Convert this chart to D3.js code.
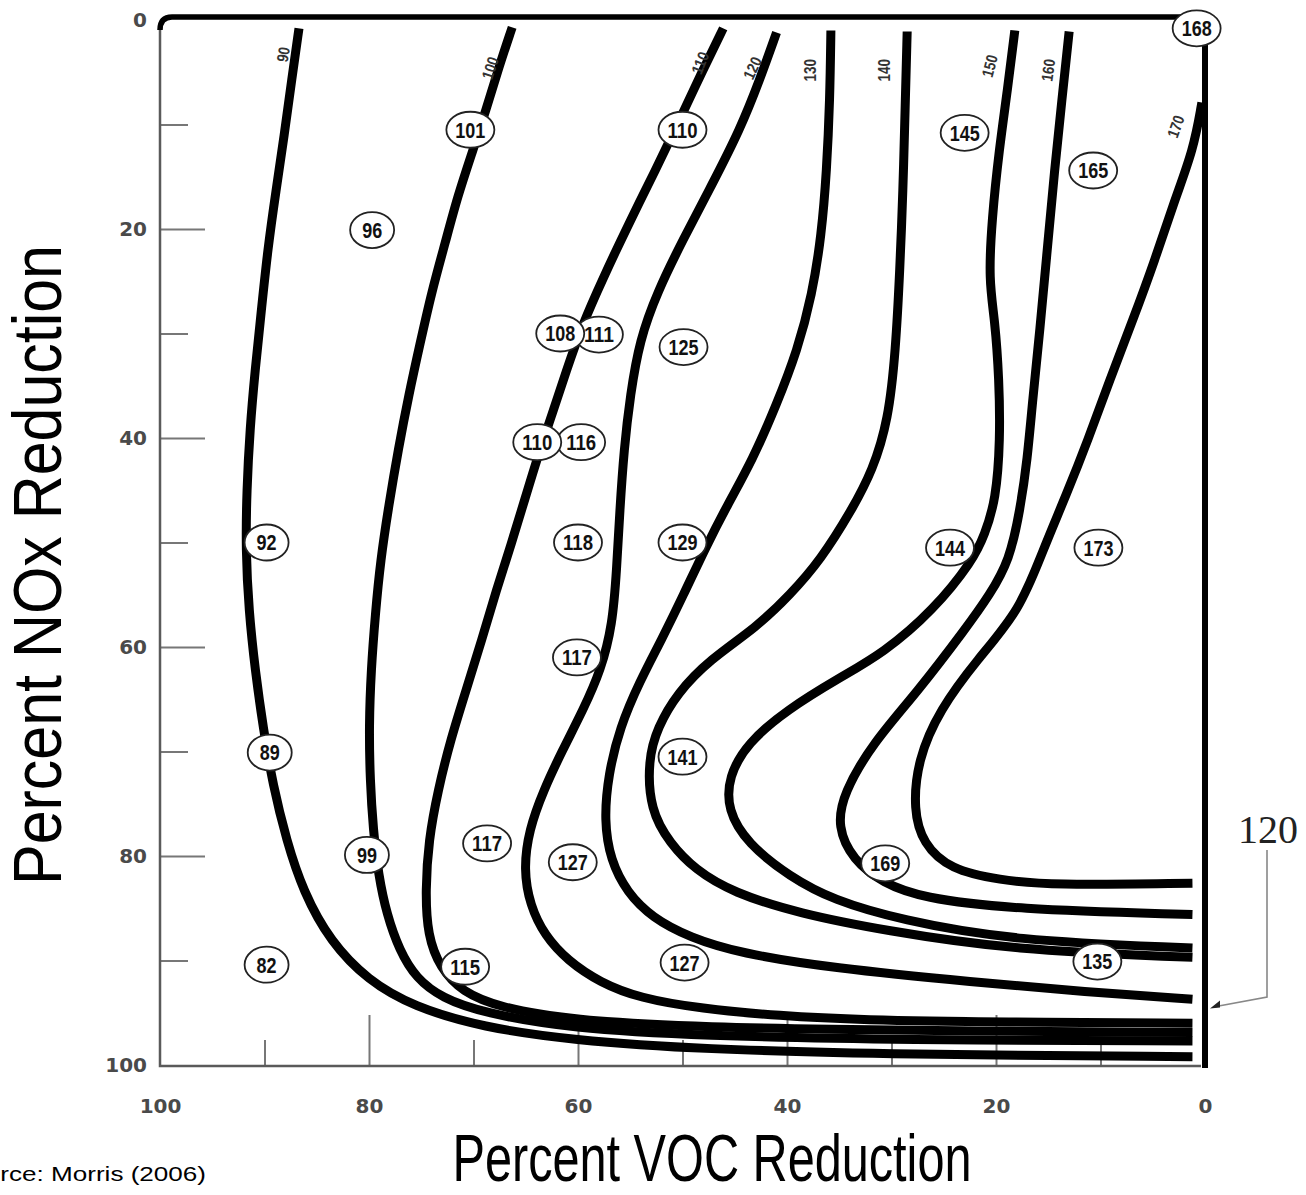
<!DOCTYPE html>
<html>
<head>
<meta charset="utf-8">
<script src="https://cdn.jsdelivr.net/npm/d3@7"></script>
<style>
    body { margin:0; background:#fff; }
    svg { display:block; }
    .tlab text { font-family:'DejaVu Sans', sans-serif; font-weight:bold; font-size:20px; fill:#4a4a4a; }
    .tick line { stroke:#777; stroke-width:2; }
    .narrow { font-family:'Liberation Sans Narrow','Arial Narrow','Liberation Sans',sans-serif; }
</style>
</head>
<body>
<svg id="chart" width="1306" height="1195"></svg>
<script>
(function() {
    'use strict';

    /******************************************************************
        data: ozone isopleths, [percent VOC reduction, percent NOx reduction]
     ******************************************************************/
    var xTicks = [100, 80, 60, 40, 20, 0],
        yTicks = [0, 20, 40, 60, 80, 100],
        majorTicks = [20, 40, 60, 80],
        minorTicks = [10, 30, 50, 70, 90];

    var c90  = [[86.7,0.8],[87.4,5.7],[88.1,11.0],[88.9,16.3],[89.7,22.0],[90.3,27.8],[90.9,33.5],[91.4,39.2],[91.7,45.0],[91.8,50.7],[91.5,56.5],[90.9,62.2],[90.1,67.9],[89.2,73.2],[87.9,78.5],[86.3,83.4],[83.7,88.2],[80.1,91.9],[75.8,94.4],[69.1,96.4],[60.7,97.6],[48.3,98.5],[29.2,99.0],[1.2,99.2]];
    var c100 = [[66.3,0.7],[67.6,4.6],[68.8,8.6],[70.1,12.6],[71.5,16.8],[72.7,21.3],[74.0,26.0],[75.1,30.9],[76.2,35.9],[77.2,41.1],[78.1,46.4],[78.9,51.7],[79.4,56.9],[79.8,62.2],[80.0,67.5],[79.9,72.7],[79.6,77.5],[79.1,81.8],[78.3,85.6],[77.1,89.0],[75.5,91.7],[73.0,93.6],[69.1,95.0],[60.7,96.5],[48.3,97.2],[29.2,97.6],[1.2,97.7]];
    var c110 = [[46.1,0.8],[48.3,5.3],[50.2,9.4],[52.6,14.4],[55.2,19.6],[57.6,24.7],[59.6,29.2],[61.1,33.5],[62.5,37.8],[63.8,41.6],[65.1,45.9],[66.4,50.2],[67.8,54.5],[69.2,59.3],[70.7,64.1],[72.2,68.9],[73.4,73.7],[74.3,78.5],[74.6,83.3],[74.4,87.6],[73.2,90.7],[71.1,93.0],[67.5,94.5],[60.7,95.7],[48.3,96.4],[29.2,96.7],[1.2,96.9]];
    var c120 = [[41.0,1.2],[42.6,5.7],[44.5,10.5],[47.2,15.8],[50.0,21.1],[52.4,26.0],[54.1,30.6],[55.0,35.9],[55.6,41.1],[56.0,46.9],[56.3,52.6],[56.7,57.9],[57.8,62.2],[59.5,66.0],[61.5,69.9],[63.3,73.7],[64.7,77.5],[65.2,81.3],[64.6,84.7],[63.2,87.6],[61.0,90.0],[57.9,92.1],[54.1,93.6],[48.3,94.6],[40.7,95.3],[33.0,95.7],[19.6,95.9],[1.2,96.0]];
    var c130 = [[35.8,1.0],[35.9,7.7],[36.2,14.4],[36.7,20.6],[37.6,26.3],[39.0,31.6],[41.0,36.8],[43.3,42.1],[45.7,46.4],[47.8,50.5],[49.9,55.0],[52.0,59.3],[54.1,63.3],[56.0,67.7],[57.1,72.2],[57.5,76.6],[56.9,80.4],[55.3,83.5],[52.9,85.9],[49.3,87.8],[44.5,89.3],[35.9,90.7],[21.9,92.1],[11.5,93.0],[1.2,93.7]];
    var c140 = [[28.5,1.1],[28.7,8.6],[28.9,16.3],[29.2,23.9],[29.6,31.6],[30.3,38.3],[31.8,43.1],[33.8,46.9],[36.8,51.7],[39.7,55.0],[42.9,58.1],[47.4,61.2],[50.5,64.4],[52.4,67.7],[53.3,70.8],[53.1,75.6],[51.2,78.8],[48.8,81.3],[45.2,83.5],[38.8,85.5],[30.8,87.1],[18.5,89.0],[1.2,89.7]];
    var c150 = [[18.2,1.0],[18.9,6.7],[19.7,12.4],[20.4,19.1],[20.7,24.9],[20.1,28.7],[19.7,34.4],[19.6,40.2],[20.0,45.9],[21.1,49.3],[22.2,51.7],[26.0,56.5],[30.8,60.6],[34.9,62.9],[40.0,66.0],[43.8,69.2],[45.6,72.4],[45.7,75.6],[43.8,78.8],[39.7,82.0],[35.6,84.2],[29.2,86.1],[18.5,88.1],[1.2,88.8]];
    var c160 = [[13.0,1.1],[13.7,7.7],[14.4,14.4],[15.1,22.0],[15.8,29.7],[16.5,36.4],[17.0,42.1],[17.7,46.9],[18.7,51.7],[20.6,55.0],[22.8,58.1],[27.6,64.4],[31.8,69.2],[34.6,74.0],[35.2,77.2],[33.7,80.4],[30.8,82.6],[27.1,84.0],[18.5,85.1],[1.2,85.6]];
    var c170 = [[0.3,7.9],[1.1,12.4],[2.9,17.2],[4.8,23.0],[6.9,28.7],[9.1,34.4],[11.2,40.2],[13.3,45.5],[15.5,50.7],[17.7,56.5],[21.8,61.2],[25.4,66.0],[27.5,70.8],[27.9,75.6],[27.0,78.8],[24.4,81.3],[19.6,82.3],[14.9,82.8],[1.2,82.6]];

    var contours = [c90, c100, c110, c120, c130, c140, c150, c160, c170];

    // contour numbers written along the top of each line
    var lineLabels = [
        { t:'90',  voc:88.2, nox:3.3, rot:-80 },
        { t:'100', voc:68.4, nox:4.6, rot:-72 },
        { t:'110', voc:48.3, nox:4.1, rot:-68 },
        { t:'120', voc:43.3, nox:4.6, rot:-65 },
        { t:'130', voc:37.8, nox:4.8, rot:-90 },
        { t:'140', voc:30.7, nox:4.8, rot:-90 },
        { t:'150', voc:20.6, nox:4.4, rot:-75 },
        { t:'160', voc:15.0, nox:4.8, rot:-82 },
        { t:'170', voc:2.8,  nox:10.2, rot:-70 }
    ];

    // circled model values (drawn in order, later ones on top)
    var bubbles = [
        { v:'168', voc:0.8,  nox:0.8 },
        { v:'101', voc:70.3, nox:10.5 },
        { v:'110', voc:50.0, nox:10.5 },
        { v:'145', voc:23.0, nox:10.8 },
        { v:'165', voc:10.7, nox:14.4 },
        { v:'96',  voc:79.7, nox:20.1 },
        { v:'111', voc:58.0, nox:30.1 },
        { v:'108', voc:61.7, nox:30.0 },
        { v:'125', voc:49.9, nox:31.3 },
        { v:'116', voc:59.7, nox:40.4 },
        { v:'110', voc:63.9, nox:40.4 },
        { v:'92',  voc:89.8, nox:50.0 },
        { v:'118', voc:60.0, nox:50.0 },
        { v:'129', voc:50.0, nox:50.0 },
        { v:'144', voc:24.4, nox:50.5 },
        { v:'173', voc:10.2, nox:50.5 },
        { v:'117', voc:60.1, nox:61.0 },
        { v:'89',  voc:89.5, nox:70.1 },
        { v:'141', voc:50.0, nox:70.5 },
        { v:'117', voc:68.7, nox:78.8 },
        { v:'99',  voc:80.2, nox:79.9 },
        { v:'127', voc:60.5, nox:80.6 },
        { v:'169', voc:30.6, nox:80.7 },
        { v:'82',  voc:89.8, nox:90.4 },
        { v:'115', voc:70.8, nox:90.6 },
        { v:'127', voc:49.8, nox:90.2 },
        { v:'135', voc:10.3, nox:90.1 }
    ];

    /******************************************************************
        scales and canvas
     ******************************************************************/
    var svg = d3.select('#chart');

    var x = d3.scaleLinear().domain([100, 0]).range([160, 1205]),
        y = d3.scaleLinear().domain([0, 100]).range([20, 1065]);

    function noDomain(g) { g.select('.domain').remove(); }

    /******************************************************************
        axes: inward ticks, labels, frame
     ******************************************************************/
    svg.append('g')
        .attr('transform', 'translate(' + x(100) + ',0)')
        .call(d3.axisRight(y).tickValues(majorTicks).tickSize(45).tickFormat(''))
        .call(noDomain);

    svg.append('g')
        .attr('transform', 'translate(' + x(100) + ',0)')
        .call(d3.axisRight(y).tickValues(minorTicks).tickSize(28).tickFormat(''))
        .call(noDomain);

    svg.append('g')
        .attr('transform', 'translate(0,' + y(100) + ')')
        .call(d3.axisTop(x).tickValues(majorTicks).tickSize(50).tickFormat(''))
        .call(noDomain);

    svg.append('g')
        .attr('transform', 'translate(0,' + y(100) + ')')
        .call(d3.axisTop(x).tickValues(minorTicks).tickSize(25).tickFormat(''))
        .call(noDomain);

    svg.append('g')
        .attr('class', 'tlab')
        .attr('transform', 'translate(' + (x(100) - 13) + ',0)')
        .call(d3.axisLeft(y).tickValues(yTicks).tickSize(0).tickPadding(0))
        .call(noDomain);

    svg.append('g')
        .attr('class', 'tlab')
        .attr('transform', 'translate(0,' + y(100) + ')')
        .call(d3.axisBottom(x).tickValues(xTicks).tickSize(0).tickPadding(34))
        .call(noDomain);

    // thin left / bottom frame
    svg.append('path')
        .attr('d', 'M' + x(100) + ',' + (y(0) + 8) + 'V' + (y(100) + 1) + 'H' + (x(0) - 4))
        .attr('fill', 'none')
        .attr('stroke', '#5a5a5a')
        .attr('stroke-width', 2.5);

    // heavy top / right frame
    svg.append('path')
        .attr('d', 'M' + x(100) + ',' + (y(0) + 10) + 'Q' + x(100) + ',' + (y(0) - 3) + ' ' + (x(100) + 12) + ',' + (y(0) - 3) + 'H' + x(1))
        .attr('fill', 'none')
        .attr('stroke', '#000')
        .attr('stroke-width', 5.5);

    svg.append('line')
        .attr('x1', x(0)).attr('x2', x(0))
        .attr('y1', y(1.5)).attr('y2', y(100) + 3)
        .attr('stroke', '#000')
        .attr('stroke-width', 6);

    /******************************************************************
        isopleths
     ******************************************************************/
    var line = d3.line()
        .x(function(d) { return x(d[0]); })
        .y(function(d) { return y(d[1]); })
        .curve(d3.curveBasis);

    svg.append('g')
        .selectAll('path')
        .data(contours).enter()
            .append('path')
            .attr('d', line)
            .attr('fill', 'none')
            .attr('stroke', '#000')
            .attr('stroke-width', 9)
            .attr('stroke-linecap', 'butt');

    svg.append('g')
        .selectAll('text')
        .data(lineLabels).enter()
            .append('text')
            .attr('class', 'narrow')
            .attr('transform', function(d) {
                return 'translate(' + [x(d.voc), y(d.nox)] + ') rotate(' + d.rot + ')';
            })
            .attr('text-anchor', 'middle')
            .attr('dy', '0.35em')
            .attr('textLength', function(d) { return d.t.length * 7.5; })
            .attr('lengthAdjust', 'spacingAndGlyphs')
            .style('font-size', '16px')
            .style('font-weight', 'bold')
            .style('fill', '#333')
            .text(function(d) { return d.t; });

    /******************************************************************
        circled values
     ******************************************************************/
    var bub = svg.append('g')
        .selectAll('g')
        .data(bubbles).enter()
            .append('g')
            .attr('transform', function(d) { return 'translate(' + [x(d.voc), y(d.nox)] + ')'; });

    bub.append('ellipse')
        .attr('rx', function(d) { return d.v.length > 2 ? 24 : 22; })
        .attr('ry', 18)
        .attr('fill', '#fff')
        .attr('stroke', '#222')
        .attr('stroke-width', 1.8);

    bub.append('text')
        .attr('class', 'narrow')
        .attr('text-anchor', 'middle')
        .attr('dy', '0.36em')
        .attr('textLength', function(d) { return d.v.length * 10; })
        .attr('lengthAdjust', 'spacingAndGlyphs')
        .style('font-size', '22px')
        .style('font-weight', 'bold')
        .style('fill', '#111')
        .text(function(d) { return d.v; });

    /******************************************************************
        '120' call-out on the right border
     ******************************************************************/
    var tip = [x(0) + 5, y(94.6)];

    svg.append('text')
        .attr('x', 1268).attr('y', 843)
        .attr('text-anchor', 'middle')
        .style('font-family', "'Liberation Serif', serif")
        .style('font-size', '40px')
        .style('fill', '#222')
        .text('120');

    svg.append('path')
        .attr('d', 'M1267,850 V997 L' + (tip[0] + 6) + ',' + (tip[1] - 2))
        .attr('fill', 'none')
        .attr('stroke', '#888')
        .attr('stroke-width', 1.6);

    svg.append('path')
        .attr('d', 'M' + tip[0] + ',' + tip[1] + ' l10,-8 l0,7 z')
        .attr('fill', '#222');

    /******************************************************************
        titles and source
     ******************************************************************/
    svg.append('text')
        .attr('class', 'narrow')
        .attr('x', 712).attr('y', 1181)
        .attr('text-anchor', 'middle')
        .attr('textLength', 519)
        .attr('lengthAdjust', 'spacingAndGlyphs')
        .style('font-size', '66px')
        .style('fill', '#000')
        .text('Percent VOC Reduction');

    svg.append('text')
        .attr('class', 'narrow')
        .attr('transform', 'translate(61,565) rotate(-90)')
        .attr('text-anchor', 'middle')
        .attr('textLength', 640)
        .attr('lengthAdjust', 'spacingAndGlyphs')
        .style('font-size', '68px')
        .style('fill', '#000')
        .text('Percent NOx Reduction');

    svg.append('text')
        .attr('class', 'narrow')
        .attr('x', 206).attr('y', 1181)
        .attr('text-anchor', 'end')
        .attr('textLength', 252)
        .attr('lengthAdjust', 'spacingAndGlyphs')
        .style('font-size', '21px')
        .style('fill', '#000')
        .text('Source: Morris (2006)');
})();
</script>
</body>
</html>
